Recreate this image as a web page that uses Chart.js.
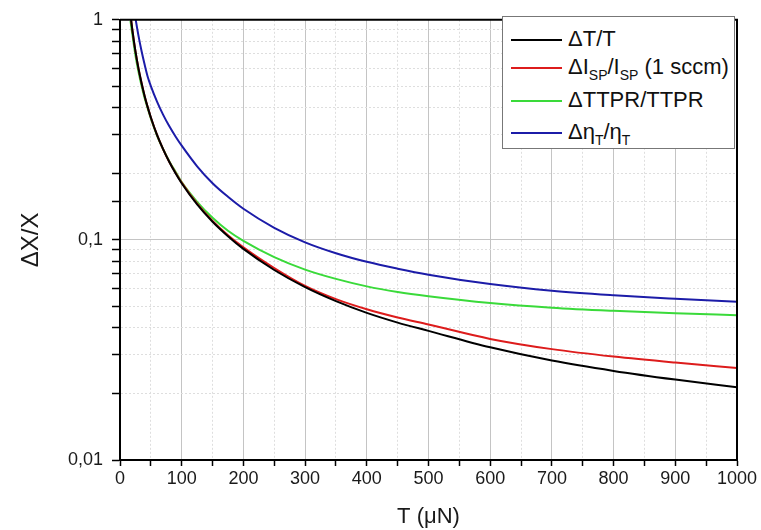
<!DOCTYPE html>
<html>
<head>
<meta charset="utf-8">
<script src="https://cdn.jsdelivr.net/npm/chart.js@4"></script>
<style>
  body { margin: 0; background: #fff; }
  #caja { position: relative; width: 761px; height: 530px; }
  #leyenda {
    position: absolute; left: 502px; top: 16px; width: 233px; height: 133px;
    background: #fff; border: 1px solid #777; box-sizing: border-box;
    font-family: 'Liberation Sans', Arial, sans-serif; font-size: 22px; color: #111;
  }
  #leyenda .fila { position: absolute; left: 8px; height: 30px; line-height: 30px; white-space: nowrap; }
  #leyenda .fila:nth-child(1) { top: 7px; }
  #leyenda .fila:nth-child(2) { top: 35px; }
  #leyenda .fila:nth-child(3) { top: 68px; }
  #leyenda .fila:nth-child(4) { top: 100px; }
  #leyenda .muestra { display: inline-block; width: 51px; height: 2px; vertical-align: middle; margin-right: 6px; }
  #leyenda sub { font-size: 14px; vertical-align: -6px; line-height: 0; }
</style>
</head>
<body>
<div id="caja">
  <canvas id="grafico" width="761" height="530"></canvas>
  <div id="leyenda"></div>
</div>
<script>
//Datos (T en uN)
const empuje = [17, 18, 20, 25, 30, 35, 40, 45, 50, 60, 70, 80, 90, 100, 125, 150, 175, 200, 250, 300, 350, 400, 450, 500, 600, 700, 800, 900, 1000];
const dT = [1.06, 1.0, 0.9, 0.72, 0.6, 0.515, 0.45, 0.40, 0.36, 0.30, 0.258, 0.226, 0.201, 0.181, 0.145, 0.121, 0.104, 0.091, 0.073, 0.061, 0.0527, 0.0466, 0.0421, 0.0386, 0.0325, 0.0283, 0.0254, 0.0232, 0.0214];
const dIsp = [1.06, 1.0, 0.9, 0.72, 0.6, 0.515, 0.45, 0.40, 0.36, 0.30, 0.258, 0.226, 0.202, 0.182, 0.146, 0.122, 0.105, 0.0925, 0.0745, 0.0618, 0.0538, 0.0484, 0.0444, 0.0413, 0.0355, 0.0319, 0.0295, 0.0277, 0.0262];
const dTtpr = [0.99, 0.94, 0.86, 0.69, 0.58, 0.5, 0.44, 0.395, 0.356, 0.298, 0.258, 0.227, 0.204, 0.183, 0.149, 0.126, 0.110, 0.099, 0.0835, 0.0733, 0.0665, 0.0615, 0.058, 0.0555, 0.0517, 0.0492, 0.0476, 0.0464, 0.0455];
const dEta = [1.5, 1.41, 1.27, 1.02, 0.845, 0.72, 0.625, 0.55, 0.5, 0.425, 0.37, 0.328, 0.295, 0.268, 0.216, 0.181, 0.157, 0.1385, 0.1135, 0.0975, 0.087, 0.0795, 0.074, 0.0695, 0.063, 0.0587, 0.056, 0.054, 0.0523];

const nombres = ['ΔT/T', 'ΔISP/ISP (1 sccm)', 'ΔTTPR/TTPR', 'ΔηT/ηT'];
const nombresHtml = ['ΔT/T', 'ΔI<sub>SP</sub>/I<sub>SP</sub> (1 sccm)', 'ΔTTPR/TTPR', 'Δη<sub>T</sub>/η<sub>T</sub>'];
const colores = ['#000000', '#dd1c1c', '#3ada3a', '#1c1ca8'];
const series = [dT, dIsp, dTtpr, dEta];

const xMin = 0, xMax = 1000, xPaso = 50;
const yMin = 0.01, yMax = 1;

const fuente = "'Liberation Sans', Arial, sans-serif";

function puntos(valores) {
  return valores.map((v, i) => ({ x: empuje[i], y: v }));
}

function esDecada(v) {
  const l = Math.log10(v);
  return Math.abs(l - Math.round(l)) < 1e-6;
}

//Marco de arriba y derecha
const marco = {
  id: 'marco',
  afterDraw(chart) {
    const a = chart.chartArea;
    const c = chart.ctx;
    c.save();
    c.strokeStyle = '#000';
    c.lineWidth = 2;
    c.beginPath();
    c.moveTo(a.left, a.top);
    c.lineTo(a.right, a.top);
    c.lineTo(a.right, a.bottom);
    c.stroke();
    c.restore();
  }
};

const ctx = document.getElementById('grafico').getContext('2d');
new Chart(ctx, {
  type: 'line',
  data: {
    datasets: series.map((s, i) => ({
      label: nombres[i],
      data: puntos(s),
      borderColor: colores[i],
      backgroundColor: colores[i],
      borderWidth: 2,
      pointRadius: 0,
      cubicInterpolationMode: 'monotone',
      fill: false
    }))
  },
  options: {
    responsive: false,
    animation: false,
    layout: { padding: { top: 16, right: 24, left: 0, bottom: 0 } },
    plugins: {
      legend: { display: false },
      tooltip: { enabled: false }
    },
    scales: {
      x: {
        type: 'linear',
        min: xMin,
        max: xMax,
        afterFit: (s) => { s.height = 70; },
        ticks: {
          stepSize: xPaso,
          autoSkip: false,
          maxRotation: 0,
          padding: 2,
          color: '#1a1a1a',
          font: { family: fuente, size: 18 },
          callback: (v) => (v % 100 === 0 ? String(v) : '')
        },
        grid: {
          color: (c) => (c.tick && c.tick.value % 100 === 0 ? '#c4c4c4' : '#dedede'),
          lineWidth: 1,
          tickColor: '#000',
          tickLength: 6,
          tickWidth: 1.5
        },
        border: {
          color: '#000',
          width: 2,
          dash: (c) => (c.tick && c.tick.value % 100 === 0 ? [] : [2, 2])
        },
        title: {
          display: true,
          text: 'T (μN)',
          color: '#1a1a1a',
          font: { family: fuente, size: 22 },
          padding: { top: 0, bottom: 0 }
        }
      },
      y: {
        type: 'logarithmic',
        min: yMin,
        max: yMax,
        afterFit: (s) => { s.width = 120; },
        ticks: {
          autoSkip: false,
          padding: 9,
          color: '#1a1a1a',
          font: { family: fuente, size: 18 },
          callback: (v) => (esDecada(v) ? String(v).replace('.', ',') : '')
        },
        grid: {
          color: (c) => (c.tick && esDecada(c.tick.value) ? '#c4c4c4' : '#dedede'),
          lineWidth: 1,
          tickColor: '#000',
          tickLength: 8,
          tickWidth: 1.5
        },
        border: {
          color: '#000',
          width: 2,
          dash: (c) => (c.tick && esDecada(c.tick.value) ? [] : [2, 2])
        },
        title: {
          display: true,
          text: 'ΔX/X',
          color: '#1a1a1a',
          font: { family: fuente, size: 24 },
          padding: { top: 17, bottom: 0 }
        }
      }
    }
  },
  plugins: [marco]
});

//Leyenda en html para poder usar subindices
const leyenda = document.getElementById('leyenda');
nombresHtml.forEach((n, i) => {
  const fila = document.createElement('div');
  fila.className = 'fila';
  fila.innerHTML = '<span class="muestra" style="background:' + colores[i] + '"></span>' + n;
  leyenda.appendChild(fila);
});
</script>
</body>
</html>
